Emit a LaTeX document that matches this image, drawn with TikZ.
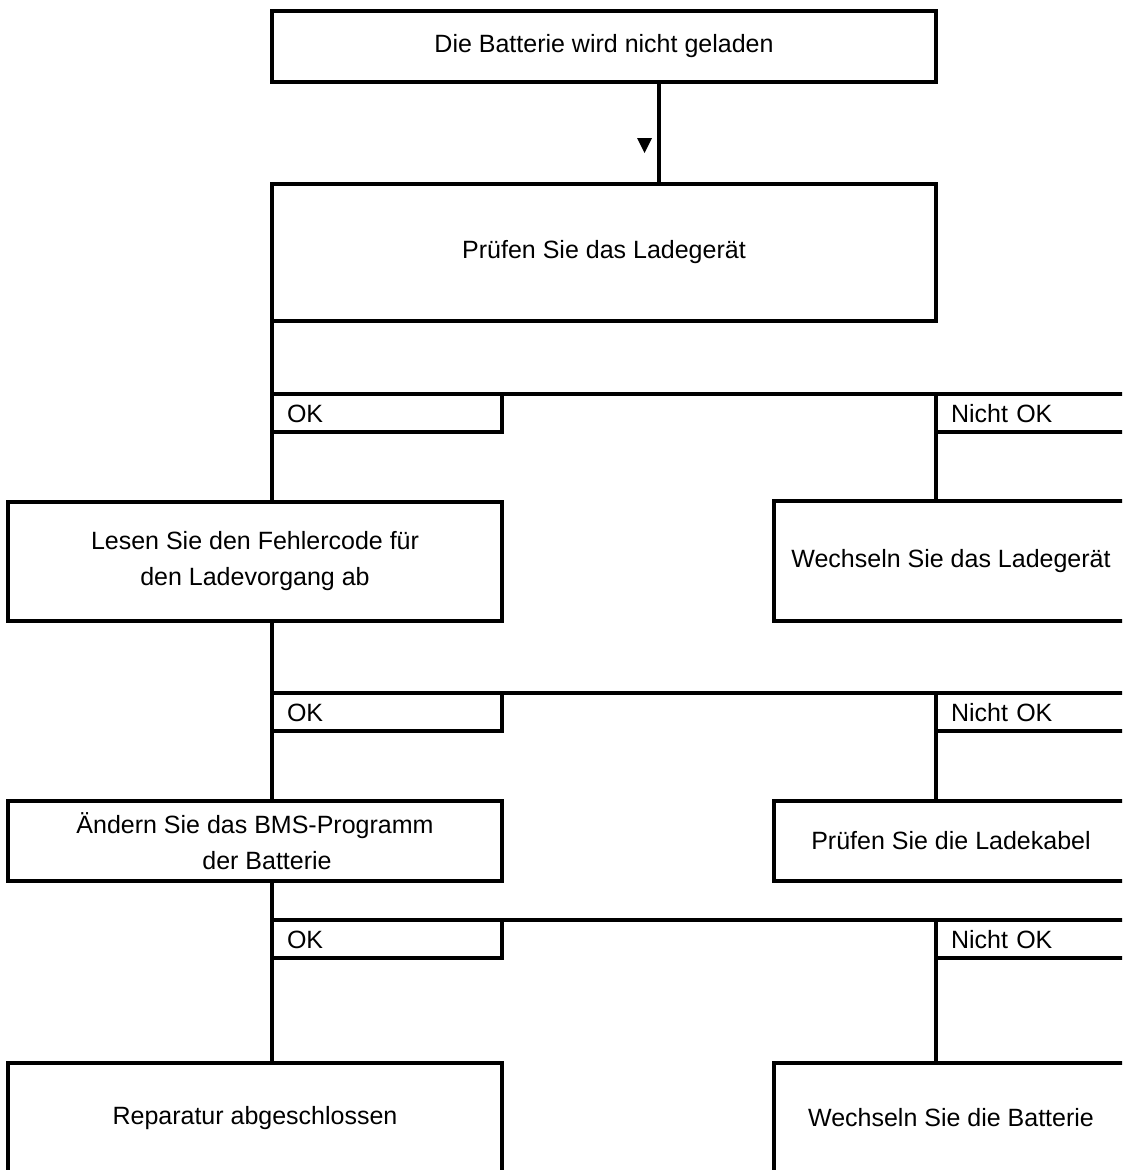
\documentclass[tikz,border=0pt]{standalone}
\usepackage{fontspec}
\setmainfont{Liberation Sans}
\usetikzlibrary{positioning, calc}

\begin{document}
\begin{tikzpicture}[x=1pt, y=-1pt, line width=3.3pt, every node/.style={outer sep=0pt},
    flowbox/.style={draw, rectangle, align=center, inner sep=0pt, font=\fontsize{25}{36}\selectfont},
    tagbox/.style={draw, rectangle, anchor=north west, minimum height=38pt, inner xsep=15pt, inner ysep=0pt,
        text height=18pt, text depth=0pt, align=left, font=\fontsize{25}{30}\selectfont}]
    % Frame
    \useasboundingbox (0,0) rectangle (1122,1170);
    \clip (0,0) rectangle (1122,1170);
    % Boxes
    \node[flowbox, minimum width=664pt, minimum height=71pt] (fault) at (604,46.5) {Die Batterie wird nicht geladen};
    \node[flowbox, minimum width=664pt, minimum height=137pt] (charger) at (604,252.5) {Prüfen Sie das Ladegerät};
    \node[flowbox, minimum width=494pt, minimum height=119pt] (readcode) at (255,561.5) {Lesen Sie den Fehlercode für\\den Ladevorgang ab};
    \node[flowbox, minimum width=354pt, minimum height=120pt] (newcharger) at (951,561) {Wechseln Sie das Ladegerät};
    \node[flowbox, minimum width=494pt, minimum height=80pt] (bms) at (255,841) {Ändern Sie das BMS-Programm\\\hspace*{24pt}der Batterie};
    \node[flowbox, minimum width=354pt, minimum height=80pt] (cables) at (951,841) {Prüfen Sie die Ladekabel};
    \node[flowbox, minimum width=494pt, minimum height=110pt] (done) at (255,1118) {Reparatur abgeschlossen};
    \node[flowbox, minimum width=354pt, minimum height=110pt] (newbattery) at (951,1118) {Wechseln Sie die Batterie};
    % OK / Nicht OK tags
    \node[tagbox, text width=200pt] (ok1) at (272,394) {OK};
    \node[tagbox, text width=164pt] (nok1) at (936,394) {Nicht OK};
    \node[tagbox, text width=200pt] (ok2) at (272,693) {OK};
    \node[tagbox, text width=164pt] (nok2) at (936,693) {Nicht OK};
    \node[tagbox, text width=200pt] (ok3) at (272,920) {OK};
    \node[tagbox, text width=164pt] (nok3) at (936,920) {Nicht OK};
    % Start connector with marker
    \coordinate (drop) at (659,0);
    \draw (fault.south -| drop) -- (charger.north -| drop);
    \fill ($(fault.south -| drop)+(-22,56)$) -- ++(15,0) -- ++(-7.5,15) -- cycle;
    % Branch 1
    \draw (charger.south west) -- (ok1.north west);
    \draw (ok1.north east) -- (nok1.north west);
    \draw (ok1.south west) -- (ok1.south west |- readcode.north);
    \draw (nok1.south west) -- (nok1.south west |- newcharger.north);
    % Branch 2
    \draw (readcode.south -| ok2.north west) -- (ok2.north west);
    \draw (ok2.north east) -- (nok2.north west);
    \draw (ok2.south west) -- (ok2.south west |- bms.north);
    \draw (nok2.south west) -- (nok2.south west |- cables.north);
    % Branch 3
    \draw (bms.south -| ok3.north west) -- (ok3.north west);
    \draw (ok3.north east) -- (nok3.north west);
    \draw (ok3.south west) -- (ok3.south west |- done.north);
    \draw (nok3.south west) -- (nok3.south west |- newbattery.north);
\end{tikzpicture}
\end{document}
